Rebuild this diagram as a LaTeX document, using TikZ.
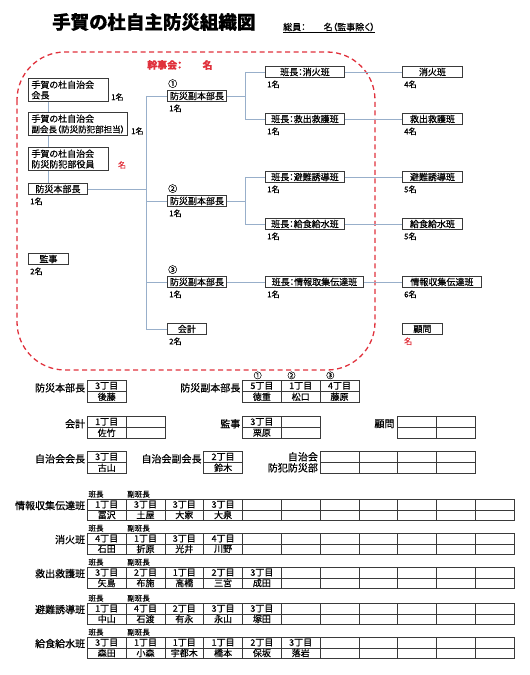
\documentclass[tikz,border=0pt]{standalone}
\usepackage{fontspec}
\setmainfont{Noto Sans CJK JP}[RawFeature=+palt,FakeBold=0.6]
\usepackage{xcolor}
\usetikzlibrary{positioning,matrix}

\definecolor{alert}{HTML}{E0313C}
\definecolor{link}{HTML}{98AFCA}
\definecolor{frame}{HTML}{3A3A3A}

\newcommand{\orgfont}{\fontsize{9}{10.5}\selectfont}
\newcommand{\cellfont}{\fontsize{9}{10}\selectfont}
\newcommand{\numfont}{\fontsize{8}{9}\selectfont}

\tikzset{
  unit/.style={draw=frame,line width=0.9pt,fill=white,inner sep=1pt,minimum height=11pt,anchor=north west,font=\orgfont},
  headbox/.style={unit,align=left,inner xsep=3pt,inner ysep=1.5pt,minimum height=23pt},
  count/.style={inner sep=0pt,font=\numfont},
  circnum/.style={inner sep=0pt,font=\fontsize{9}{10}\selectfont},
  wire/.style={draw=link,line width=0.9pt},
  tbl/.style={matrix of nodes,nodes in empty cells,anchor=north west,inner sep=0pt,outer sep=0pt,
    column sep=-0.6pt,row sep=-0.6pt,
    nodes={draw=frame,line width=0.6pt,anchor=center,minimum width=38.8pt,minimum height=11pt,inner sep=0pt,font=\cellfont}},
  squad/.style={tbl,nodes={minimum height=10.5pt}},
  lbl/.style={inner sep=0pt,font=\fontsize{10}{11}\selectfont},
  lead/.style={inner sep=0pt,font=\fontsize{7.5}{8}\selectfont}
}

\begin{document}
\begin{tikzpicture}[x=1pt,y=-1pt]
\useasboundingbox (0,0) rectangle (530,675);

% title
\node[anchor=west,inner sep=0pt,font=\fontsize{18.5}{20}\selectfont\bfseries] (title) at (52,22) {手賀の杜自主防災組織図};
\node[anchor=west,inner sep=0pt,font=\fontsize{9}{10}\selectfont] (total) at (283,27) {総員：　　名（監事除く）};
\draw[line width=0.5pt] ([yshift=-1.2pt]total.south west) -- ([yshift=-1.2pt]total.south east);

% executive committee frame
\draw[alert,line width=1.3pt,dash pattern=on 5pt off 3.5pt,rounded corners=48pt] (17,52) rectangle (375,370);
\node[anchor=west,inner sep=0pt,text=alert,font=\fontsize{10}{11}\selectfont\bfseries] (kanjikai) at (147,65) {幹事会：};
\node[right=20pt of kanjikai,inner sep=0pt,text=alert,font=\fontsize{10}{11}\selectfont\bfseries] (kanjikaiN) {名};

% left column
\node[headbox,text width=74pt] (kaicho) at (28,78) {手賀の杜自治会\\会長};
\node[headbox,text width=93pt] (fukukai) at (28,112) {手賀の杜自治会\\{\fontsize{8.5}{10}\selectfont 副会長（防災防犯部担当）}};
\node[headbox,text width=74pt] (yakuin) at (28,147) {手賀の杜自治会\\防災防犯部役員};
\node[unit,minimum width=59pt] (honbu) at (28,183) {防災本部長};
\node[unit,minimum width=40pt] (kanji) at (28,253) {監事};

% vice heads
\node[unit,minimum width=59pt] (fuku1) at (167,90) {防災副本部長};
\node[unit,minimum width=59pt] (fuku2) at (167,195) {防災副本部長};
\node[unit,minimum width=59pt] (fuku3) at (167,276) {防災副本部長};
\node[unit,minimum width=39pt] (kaikei) at (167,323) {会計};
\node[circnum,above right=2pt and 1pt of fuku1.north west] (num1) {①};
\node[circnum,above right=2pt and 1pt of fuku2.north west] (num2) {②};
\node[circnum,above right=2pt and 1pt of fuku3.north west] (num3) {③};

% squad leaders
\node[unit,minimum width=79pt] (han1) at (265,66) {班長：消火班};
\node[unit,minimum width=79pt] (han2) at (265,113) {班長：救出救護班};
\node[unit,minimum width=79pt] (han3) at (265,171) {班長：避難誘導班};
\node[unit,minimum width=79pt] (han4) at (265,218) {班長：給食給水班};
\node[unit,minimum width=98pt] (han5) at (265,276) {班長：情報取集伝達班};

% squads
\node[unit,minimum width=60pt] (team1) at (402,66) {消火班};
\node[unit,minimum width=60pt] (team2) at (402,113) {救出救護班};
\node[unit,minimum width=60pt] (team3) at (402,171) {避難誘導班};
\node[unit,minimum width=60pt] (team4) at (402,218) {給食給水班};
\node[unit,minimum width=79pt] (team5) at (402,276) {情報収集伝達班};
\node[unit,minimum width=40pt] (komon) at (402,323) {顧問};

% head counts
\node[count,above right=1pt and 2pt of kaicho.south east] (kaichoN) {1名};
\node[count,above right=1pt and 3pt of fukukai.south east] (fukukaiN) {1名};
\node[count,text=alert,above right=2pt and 9pt of yakuin.south east] (yakuinN) {名};
\node[count,below right=2.5pt and 2pt of honbu.south west] (honbuN) {1名};
\node[count,below right=2.5pt and 2pt of kanji.south west] (kanjiN) {2名};
\foreach \n/\c in {fuku1/1名,fuku2/1名,fuku3/1名,kaikei/2名,han1/1名,han2/1名,han3/1名,han4/1名,han5/1名,
  team1/4名,team2/4名,team3/5名,team4/5名,team5/6名}
  \node[count,below right=2.5pt and 2pt of \n.south west] (\n N) {\c};
\node[count,text=alert,below right=2.5pt and 2pt of komon.south west] (komonN) {名};

% connectors
\coordinate (spine) at (48,0);
\coordinate (trunk) at (146,0);
\coordinate (fork) at (245,0);
\draw[wire] (kaicho.south -| spine) -- (fukukai.north -| spine);
\draw[wire] (fukukai.south -| spine) -- (yakuin.north -| spine);
\draw[wire] (yakuin.south -| spine) -- (honbu.north -| spine);
\draw[wire] (honbu.east) -- (honbu.east -| trunk);
\draw[wire] (fuku1.west -| trunk) -- (kaikei.west -| trunk);
\foreach \n in {fuku1,fuku2,fuku3,kaikei}
  \draw[wire] (\n.west -| trunk) -- (\n.west);
\draw[wire] (fuku1.east) -- (fuku1.east -| fork);
\draw[wire] (han1.west -| fork) -- (han2.west -| fork);
\draw[wire] (fuku2.east) -- (fuku2.east -| fork);
\draw[wire] (han3.west -| fork) -- (han4.west -| fork);
\foreach \n in {han1,han2,han3,han4}
  \draw[wire] (\n.west -| fork) -- (\n.west);
\draw[wire] (fuku3.east) -- (han5.west);
\foreach \i in {1,...,5}
  \draw[wire] (han\i.east) -- (team\i.west);

% roster tables
\matrix[tbl] (tHonbu) at (87,380) {3丁目 \\ 後藤 \\};
\matrix[tbl] (tFuku) at (242.2,380) {5丁目 & 1丁目 & 4丁目 \\ 徳重 & 松口 & 藤原 \\};
\matrix[tbl] (tKaikei) at (87,416) {1丁目 & \\ 佐竹 & \\};
\matrix[tbl] (tKanji) at (242.2,416) {3丁目 & \\ 栗原 & \\};
\matrix[tbl] (tKomon) at (397.4,416) { & \\ & \\};
\matrix[tbl] (tKaicho) at (87,451) {3丁目 \\ 古山 \\};
\matrix[tbl] (tFukukai) at (203.4,451) {2丁目 \\ 鈴木 \\};
\matrix[tbl] (tBouhan) at (319.8,451) { & & & \\ & & & \\};

\node[lbl,left=2pt of tHonbu-1-1.west,yshift=-2pt] (lHonbu) {防災本部長};
\node[lbl,left=2pt of tFuku-1-1.west,yshift=-2pt] (lFuku) {防災副本部長};
\node[lbl,left=2pt of tKaikei-1-1.west,yshift=-2pt] (lKaikei) {会計};
\node[lbl,left=2pt of tKanji-1-1.west,yshift=-2pt] (lKanji) {監事};
\node[lbl,left=3pt of tKomon-1-1.west,yshift=-2pt] (lKomon) {顧問};
\node[lbl,left=2pt of tKaicho-1-1.west,yshift=-2pt] (lKaicho) {自治会会長};
\node[lbl,left=2pt of tFukukai-1-1.west,yshift=-2pt] (lFukukai) {自治会副会長};
\node[lbl,left=2pt of tBouhan-1-1.west] (lBouhan1) {自治会};
\node[lbl,left=2pt of tBouhan-2-1.west] (lBouhan2) {防犯防災部};
\node[circnum,font=\fontsize{8}{9}\selectfont,above right=1pt and 11pt of tFuku-1-1.north west] (fnum1) {①};
\node[circnum,font=\fontsize{8}{9}\selectfont,above right=1pt and 6pt of tFuku-1-2.north west] (fnum2) {②};
\node[circnum,font=\fontsize{8}{9}\selectfont,above right=1pt and 6pt of tFuku-1-3.north west] (fnum3) {③};

\matrix[squad] (tJyoho) at (87,499) {1丁目 & 3丁目 & 3丁目 & 3丁目 & & & & & & & \\ 冨沢 & 土屋 & 大家 & 大泉 & & & & & & & \\};
\matrix[squad] (tShoka) at (87,533) {4丁目 & 1丁目 & 3丁目 & 4丁目 & & & & & & & \\ 石田 & 折原 & 光井 & 川野 & & & & & & & \\};
\matrix[squad] (tKyushutsu) at (87,567) {3丁目 & 2丁目 & 1丁目 & 2丁目 & 3丁目 & & & & & & \\ 矢島 & 布施 & 高橋 & 三宮 & 成田 & & & & & & \\};
\matrix[squad] (tHinan) at (87,603) {1丁目 & 4丁目 & 2丁目 & 3丁目 & 3丁目 & & & & & & \\ 中山 & 石渡 & 有永 & 永山 & 塚田 & & & & & & \\};
\matrix[squad] (tKyushoku) at (87,637) {3丁目 & 1丁目 & 1丁目 & 1丁目 & 2丁目 & 3丁目 & & & & & \\ 森田 & 小森 & 宇都木 & 橋本 & 保坂 & 落岩 & & & & & \\};

\foreach \t/\name in {tJyoho/情報収集伝達班,tShoka/消火班,tKyushutsu/救出救護班,tHinan/避難誘導班,tKyushoku/給食給水班}{
  \node[lbl,left=2pt of \t-1-1.west,yshift=-1pt] (\t-lbl) {\name};
  \node[lead,above right=1.5pt and 1pt of \t-1-1.north west] (\t-lead) {班長};
  \node[lead,above right=1.5pt and 1pt of \t-1-2.north west] (\t-sub) {副班長};
}
\end{tikzpicture}
\end{document}
